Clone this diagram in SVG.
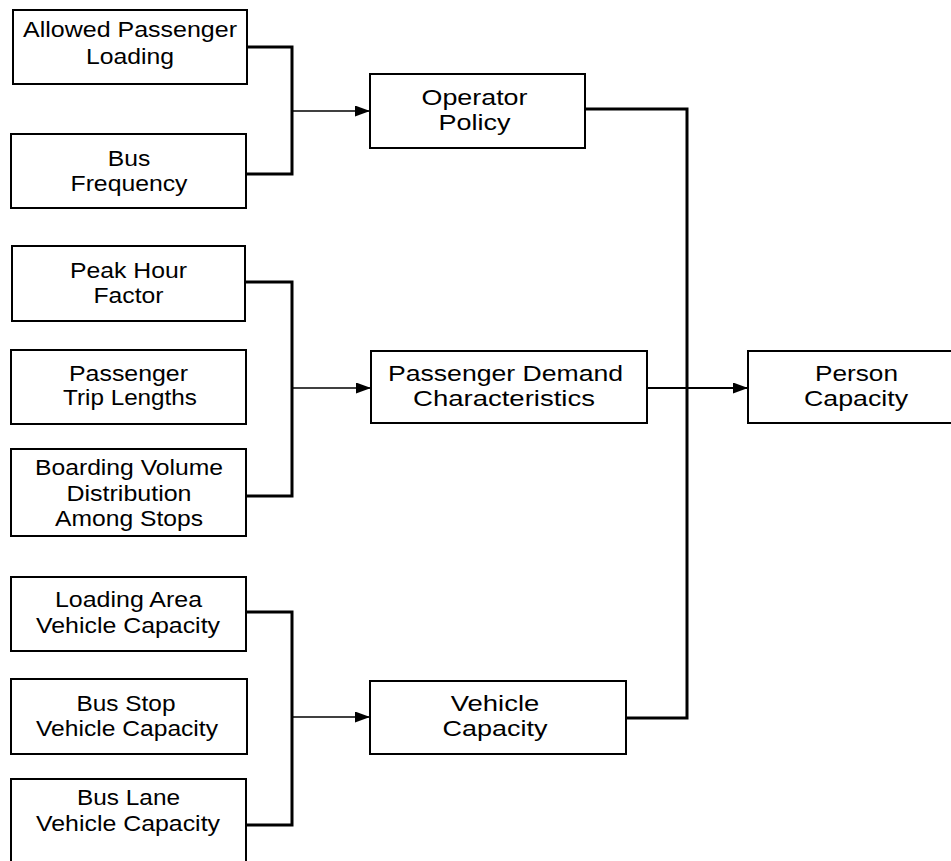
<svg xmlns="http://www.w3.org/2000/svg" width="951" height="861" viewBox="0 0 951 861">
<style>
.box{fill:#fff;stroke:#000;stroke-width:2}
text{font-family:"Liberation Sans",Arial,Helvetica,sans-serif;font-size:22px;fill:#000;text-anchor:middle}
.bracket{fill:none;stroke:#000;stroke-width:3}
.feed{fill:none;stroke:#000;stroke-width:1.5}
.feed2{fill:none;stroke:#000;stroke-width:2}
</style>
<defs>
<marker id="arr" markerUnits="userSpaceOnUse" markerWidth="15" markerHeight="11" refX="15" refY="5.5" orient="auto">
<path d="M0,0 L15,5.5 L0,11 Z" fill="#000"/>
</marker>
</defs>
<rect width="951" height="861" fill="#fff"/>

<g id="connectors">
<polyline class="bracket" points="247,47 292,47 292,174 246,174"/>
<line class="feed" x1="292" y1="111" x2="370" y2="111" marker-end="url(#arr)"/>
<polyline class="bracket" points="245,282 292,282 292,496 246,496"/>
<line class="feed" x1="292" y1="388" x2="371" y2="388" marker-end="url(#arr)"/>
<polyline class="bracket" points="246,612 292,612 292,825 246,825"/>
<line class="feed" x1="292" y1="717" x2="370" y2="717" marker-end="url(#arr)"/>
<polyline class="bracket" points="585,109 687,109 687,718 626,718"/>
<line class="feed2" x1="647" y1="388" x2="748" y2="388" marker-end="url(#arr)"/>
</g>

<g id="allowed-passenger-loading">
<rect class="box" x="13" y="10" width="234" height="74"/>
<text x="130" y="37" textLength="214" lengthAdjust="spacingAndGlyphs">Allowed Passenger</text>
<text x="130" y="64" textLength="88" lengthAdjust="spacingAndGlyphs">Loading</text>
</g>
<g id="bus-frequency">
<rect class="box" x="11" y="134" width="235" height="74"/>
<text x="129" y="165.5" textLength="42.5" lengthAdjust="spacingAndGlyphs">Bus</text>
<text x="129" y="191" textLength="117" lengthAdjust="spacingAndGlyphs">Frequency</text>
</g>
<g id="peak-hour-factor">
<rect class="box" x="12" y="246" width="233" height="75"/>
<text x="128.5" y="277.5" textLength="117" lengthAdjust="spacingAndGlyphs">Peak Hour</text>
<text x="128.5" y="302.5" textLength="70" lengthAdjust="spacingAndGlyphs">Factor</text>
</g>
<g id="passenger-trip-lengths">
<rect class="box" x="11" y="350" width="235" height="74"/>
<text x="128.5" y="380.5" textLength="119" lengthAdjust="spacingAndGlyphs">Passenger</text>
<text x="130" y="405" textLength="134" lengthAdjust="spacingAndGlyphs">Trip Lengths</text>
</g>
<g id="boarding-volume">
<rect class="box" x="11" y="449" width="235" height="87"/>
<text x="129" y="475" textLength="188" lengthAdjust="spacingAndGlyphs">Boarding Volume</text>
<text x="129" y="500.5" textLength="125" lengthAdjust="spacingAndGlyphs">Distribution</text>
<text x="129" y="526" textLength="148" lengthAdjust="spacingAndGlyphs">Among Stops</text>
</g>
<g id="loading-area-capacity">
<rect class="box" x="11" y="577" width="235" height="74"/>
<text x="128.5" y="606.5" textLength="147" lengthAdjust="spacingAndGlyphs">Loading Area</text>
<text x="128" y="632.5" textLength="184" lengthAdjust="spacingAndGlyphs">Vehicle Capacity</text>
</g>
<g id="bus-stop-capacity">
<rect class="box" x="11" y="679" width="236" height="75"/>
<text x="126" y="710.5" textLength="99" lengthAdjust="spacingAndGlyphs">Bus Stop</text>
<text x="127" y="736" textLength="182" lengthAdjust="spacingAndGlyphs">Vehicle Capacity</text>
</g>
<g id="bus-lane-capacity">
<rect class="box" x="11" y="779" width="235" height="95"/>
<text x="128.5" y="805" textLength="103" lengthAdjust="spacingAndGlyphs">Bus Lane</text>
<text x="128" y="831" textLength="184" lengthAdjust="spacingAndGlyphs">Vehicle Capacity</text>
</g>

<g id="operator-policy">
<rect class="box" x="370" y="74" width="215" height="74"/>
<text x="474.5" y="105" textLength="106" lengthAdjust="spacingAndGlyphs">Operator</text>
<text x="474.5" y="130" textLength="72" lengthAdjust="spacingAndGlyphs">Policy</text>
</g>
<g id="passenger-demand">
<rect class="box" x="371" y="351" width="276" height="72"/>
<text x="505.5" y="380.5" textLength="235" lengthAdjust="spacingAndGlyphs">Passenger Demand</text>
<text x="504" y="405.5" textLength="182" lengthAdjust="spacingAndGlyphs">Characteristics</text>
</g>
<g id="vehicle-capacity">
<rect class="box" x="370" y="681" width="256" height="73"/>
<text x="495" y="710.5" textLength="88.5" lengthAdjust="spacingAndGlyphs">Vehicle</text>
<text x="495" y="736" textLength="105" lengthAdjust="spacingAndGlyphs">Capacity</text>
</g>
<g id="person-capacity">
<rect class="box" x="748" y="351" width="215" height="72"/>
<text x="856.5" y="380.5" textLength="83" lengthAdjust="spacingAndGlyphs">Person</text>
<text x="856" y="406" textLength="104" lengthAdjust="spacingAndGlyphs">Capacity</text>
</g>
</svg>
